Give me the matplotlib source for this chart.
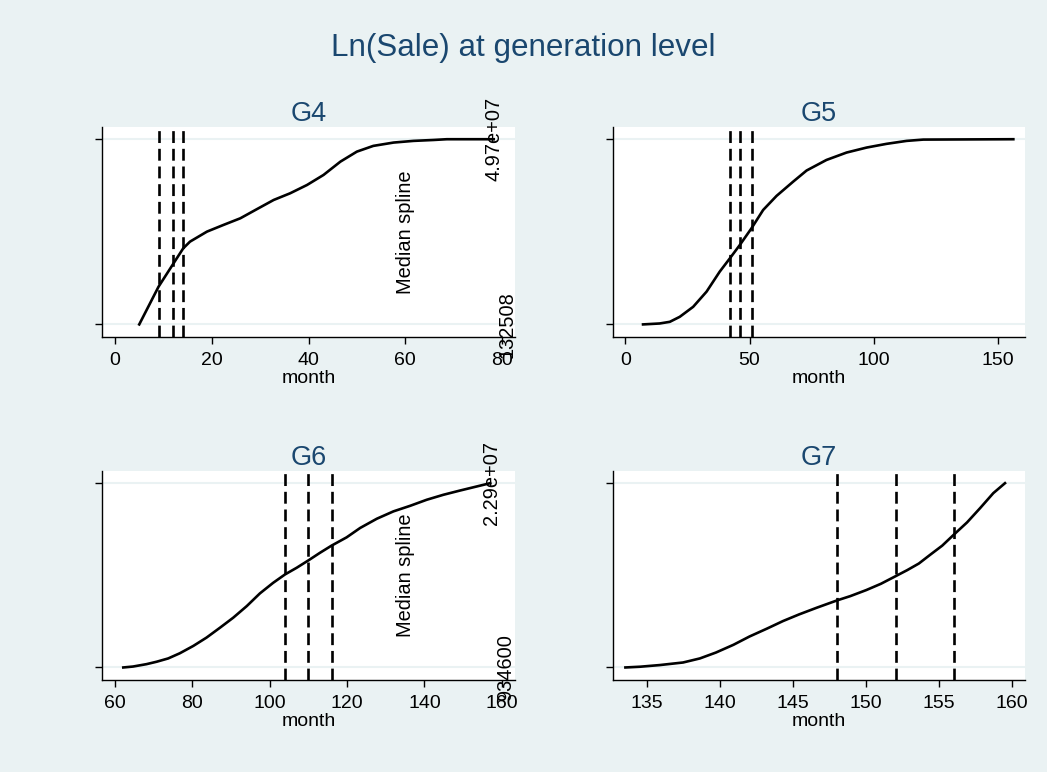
import matplotlib
matplotlib.use("Agg")
import matplotlib.pyplot as plt

plt.rcParams['font.family'] = ['Liberation Sans', 'DejaVu Sans']

BG = '#EAF2F3'
NAVY = '#1A476F'

# y values are position between the min (0) and max (1) of Ln(Sale) in each panel
g4_month = [5.0, 9.0, 12.1, 14.1, 15.5, 19.0, 22.4, 25.9, 29.3, 32.8, 36.2, 39.7,
            43.1, 46.6, 50.0, 53.4, 57.6, 61.7, 65.9, 68.6, 78.3]
g4_sale = [0.0, 0.204, 0.330, 0.411, 0.447, 0.501, 0.537, 0.573, 0.622, 0.672, 0.708,
           0.753, 0.807, 0.879, 0.933, 0.964, 0.982, 0.991, 0.996, 1.0, 1.0]
g4_vlines = [9, 12, 14]

g5_month = [7.1, 13.8, 17.9, 21.9, 27.3, 32.7, 38.0, 42.1, 46.1, 50.8, 55.5, 60.9,
            67.6, 73.0, 81.0, 89.1, 97.2, 105.2, 113.3, 120.0, 156.3]
g5_sale = [0.0, 0.005, 0.014, 0.041, 0.095, 0.177, 0.285, 0.357, 0.429, 0.519, 0.618,
           0.694, 0.771, 0.831, 0.888, 0.928, 0.955, 0.975, 0.991, 0.998, 1.0]
g5_vlines = [42, 46, 51]

g6_month = [62.2, 64.7, 68.2, 70.8, 73.8, 76.8, 80.3, 83.7, 87.2, 90.6, 94.1, 97.5,
            100.9, 104.0, 107.0, 110.1, 113.0, 116.0, 119.9, 123.4, 127.7, 132.0,
            136.3, 140.6, 144.9, 149.2, 153.5, 157.0]
g6_sale = [0.0, 0.005, 0.018, 0.031, 0.049, 0.077, 0.117, 0.162, 0.216, 0.270, 0.333,
           0.402, 0.459, 0.505, 0.541, 0.582, 0.622, 0.661, 0.706, 0.757, 0.807,
           0.847, 0.877, 0.910, 0.937, 0.960, 0.982, 1.0]
g6_vlines = [104, 110, 116]

g7_month = [133.5, 134.5, 135.85, 137.45, 138.6, 139.7, 140.9, 142.0, 143.2, 144.3,
            145.4, 146.6, 148.0, 148.9, 150.0, 151.0, 152.0, 152.8, 153.6, 154.4,
            155.2, 156.0, 156.9, 157.8, 158.7, 159.5]
g7_sale = [0.0, 0.004, 0.013, 0.027, 0.049, 0.081, 0.123, 0.168, 0.211, 0.252, 0.288,
           0.324, 0.364, 0.387, 0.420, 0.454, 0.495, 0.528, 0.564, 0.613, 0.661,
           0.721, 0.787, 0.865, 0.946, 1.0]
g7_vlines = [148, 152, 156]

W, H = 1047, 772


def make_ax(fig, left, top, right, bottom):
    return fig.add_axes([left / W, 1 - bottom / H, (right - left) / W, (bottom - top) / H])


def panel(ax, title, month, sale, vlines, xlim, xticks, labels=None, spline_x=None):
    ax.set_facecolor('white')
    for s in ['top', 'right']:
        ax.spines[s].set_visible(False)
    for s in ['left', 'bottom']:
        ax.spines[s].set_linewidth(1.0)
    ax.set_xlim(xlim)
    ax.set_ylim(-0.068, 1.066)
    ax.set_yticks([0, 1])
    ax.set_yticklabels([])
    for yv in [0, 1]:
        ax.axhline(yv, color=BG, lw=1.5, zorder=0)
    ax.set_xticks(xticks)
    ax.tick_params(axis='both', direction='out', length=5, width=1, labelsize=14, pad=5.5)
    ax.plot(month, sale, color='black', lw=1.9)
    for v in vlines:
        ax.axvline(v, color='black', lw=1.9, dashes=(4.5, 2.2))
    ax.set_title(title, color=NAVY, fontsize=19.5, pad=4)
    ax.set_xlabel('month', fontsize=14, labelpad=1)
    if labels is not None:
        (xt, top_lab), (xb, bot_lab) = labels
        ax.text(xt, 1, top_lab, rotation=90, ha='center', va='center', fontsize=14.4, clip_on=False)
        ax.text(xb, 0, bot_lab, rotation=90, ha='center', va='center', fontsize=14.4, clip_on=False)
    if spline_x is not None:
        ax.text(spline_x, 0.5, 'Median spline', rotation=90, ha='center', va='center', fontsize=14.4)


fig = plt.figure(figsize=(W / 100, H / 100), dpi=100)
fig.patch.set_facecolor(BG)
fig.text(0.5, 1 - 48 / H, 'Ln(Sale) at generation level', ha='center', va='center',
         color=NAVY, fontsize=22.6)

ax4 = make_ax(fig, 102, 127, 515, 337)
panel(ax4, 'G4', g4_month, g4_sale, g4_vlines, (-2.7, 82.7), [0, 20, 40, 60, 80],
      labels=[(78.3, '4.97e+07'), (81.0, '132508')], spline_x=60)

ax5 = make_ax(fig, 613, 127, 1025, 337)
panel(ax5, 'G5', g5_month, g5_sale, g5_vlines, (-5, 161), [0, 50, 100, 150])

ax6 = make_ax(fig, 102, 471, 515, 680)
panel(ax6, 'G6', g6_month, g6_sale, g6_vlines, (56.7, 163.4), [60, 80, 100, 120, 140, 160],
      labels=[(157.4, '2.29e+07'), (161.0, '934600')], spline_x=135)

ax7 = make_ax(fig, 613, 471, 1025, 680)
panel(ax7, 'G7', g7_month, g7_sale, g7_vlines, (132.65, 160.87), [135, 140, 145, 150, 155, 160])

fig.savefig('out.png', dpi=100, facecolor=BG)
